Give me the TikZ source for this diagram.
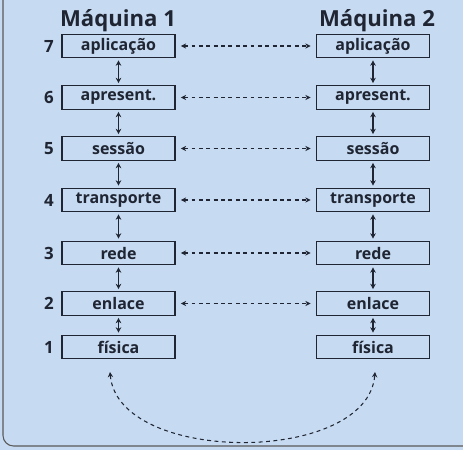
\documentclass[tikz,border=0pt]{standalone}
\usepackage{fontspec}
\setmainfont{Open Sans}
\usetikzlibrary{arrows.meta}
\definecolor{fundo}{HTML}{C6DAF1}
\definecolor{tinta}{HTML}{1F2532}
\tikzset{
  camada/.style={draw=tinta, line width=0.7pt, minimum width=2.26cm, minimum height=0.47cm,
    inner sep=0pt, text=tinta, font=\fontsize{9.1}{11}\selectfont\bfseries},
  numero/.style={text=tinta, font=\fontsize{9.6}{11}\selectfont\bfseries},
  titulo/.style={text=tinta, font=\fontsize{12.6}{15}\selectfont\bfseries},
  vert/.style={tinta, line width=0.7pt, {Stealth[length=3pt,width=3.2pt]}-{Stealth[length=3pt,width=3.2pt]}},
  par/.style={tinta, line width=0.6pt, dash pattern=on 2.2pt off 2pt,
    {Stealth[length=3pt,width=3pt]}-{Stealth[length=3pt,width=3pt]}}
}
\begin{document}
\begin{tikzpicture}[x=0.02cm, y=-0.02cm]
    % fundo e moldura
    \fill[fundo] (0,0) rectangle (463,450);
    \useasboundingbox (0,0) rectangle (463,450);
    \draw[gray!70!black, line width=0.6pt, rounded corners=6pt] (3,0) -- (3,446) -- (463,446);

    % titulos
    \node[titulo] (tit1) at (118,21) {Máquina 1};
    \node[titulo] (tit2) at (377,21) {Máquina 2};

    % maquina 1
    \node[camada] (a7) at (118.5,46) {aplicação};
    \node[camada] (a6) at (118.5,97.5) {apresent.};
    \node[camada] (a5) at (118.5,148.5) {sessão};
    \node[camada] (a4) at (118.5,200) {transporte};
    \node[camada] (a3) at (118.5,253) {rede};
    \node[camada] (a2) at (118.5,303.5) {enlace};
    \node[camada] (a1) at (118.5,347) {física};

    % maquina 2
    \node[camada] (b7) at (373,46) {aplicação};
    \node[camada] (b6) at (373,97.5) {apresent.};
    \node[camada] (b5) at (373,148.5) {sessão};
    \node[camada] (b4) at (373,200) {transporte};
    \node[camada] (b3) at (373,253) {rede};
    \node[camada] (b2) at (373,303.5) {enlace};
    \node[camada] (b1) at (373,347) {física};

    % numeros
    \node[numero] (n7) at (49,46) {7};
    \node[numero] (n6) at (49,97.5) {6};
    \node[numero] (n5) at (49,148.5) {5};
    \node[numero] (n4) at (49,200) {4};
    \node[numero] (n3) at (49,253) {3};
    \node[numero] (n2) at (49,303.5) {2};
    \node[numero] (n1) at (49,347) {1};

    % setas verticais
    \draw[vert] ([yshift=-1.2pt]a7.south) -- ([yshift=1.2pt]a6.north);
    \draw[vert] ([yshift=-1.2pt]a6.south) -- ([yshift=1.2pt]a5.north);
    \draw[vert] ([yshift=-1.2pt]a5.south) -- ([yshift=1.2pt]a4.north);
    \draw[vert] ([yshift=-1.2pt]a4.south) -- ([yshift=1.2pt]a3.north);
    \draw[vert] ([yshift=-1.2pt]a3.south) -- ([yshift=1.2pt]a2.north);
    \draw[vert] ([yshift=-1.2pt]a2.south) -- ([yshift=1.2pt]a1.north);
    \draw[vert] ([yshift=-1.2pt]b7.south) -- ([yshift=1.2pt]b6.north);
    \draw[vert] ([yshift=-1.2pt]b6.south) -- ([yshift=1.2pt]b5.north);
    \draw[vert] ([yshift=-1.2pt]b5.south) -- ([yshift=1.2pt]b4.north);
    \draw[vert] ([yshift=-1.2pt]b4.south) -- ([yshift=1.2pt]b3.north);
    \draw[vert] ([yshift=-1.2pt]b3.south) -- ([yshift=1.2pt]b2.north);
    \draw[vert] ([yshift=-1.2pt]b2.south) -- ([yshift=1.2pt]b1.north);

    % protocolos entre pares
    \draw[par] ([xshift=3pt]a7.east) -- ([xshift=-3pt]b7.west);
    \draw[par] ([xshift=3pt]a6.east) -- ([xshift=-3pt]b6.west);
    \draw[par] ([xshift=3pt]a5.east) -- ([xshift=-3pt]b5.west);
    \draw[par] ([xshift=3pt]a4.east) -- ([xshift=-3pt]b4.west);
    \draw[par] ([xshift=3pt]a3.east) -- ([xshift=-3pt]b3.west);
    \draw[par] ([xshift=3pt]a2.east) -- ([xshift=-3pt]b2.west);

    % meio fisico
    \coordinate (f1) at (110,372);
    \coordinate (f2) at (375,372);
    \draw[par] (f1) .. controls (118,465) and (368,465) .. (f2);
\end{tikzpicture}
\end{document}
